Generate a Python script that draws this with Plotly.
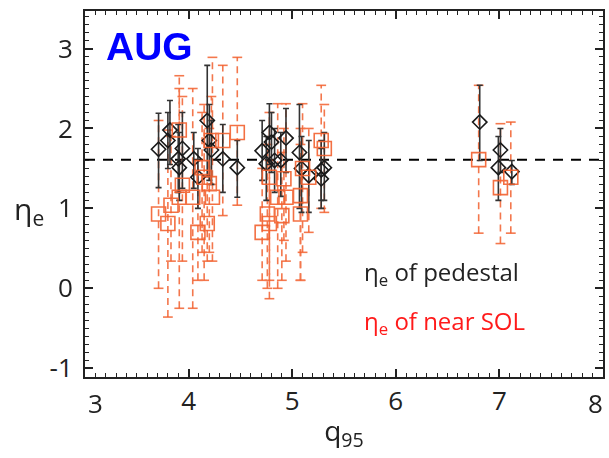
import plotly.graph_objects as go

# ---------------- data ----------------
# eta_e of pedestal (black diamonds)
ped_q95 = [3.71, 3.82, 3.80, 3.90, 3.91, 3.94, 4.05, 4.09, 4.18, 4.20, 4.22, 4.33, 4.47,
           4.78, 4.71, 4.80, 4.75, 4.83, 4.94, 4.89, 5.07, 5.16, 5.09, 5.28, 5.28, 5.31,
           6.81, 7.01, 6.99, 7.12]
ped_eta = [1.74, 1.98, 1.85, 1.62, 1.51, 1.75, 1.62, 1.39, 2.10, 1.85, 1.73, 1.62, 1.51,
           1.95, 1.72, 1.83, 1.56, 1.60, 1.88, 1.60, 1.70, 1.41, 1.50, 1.48, 1.37, 1.51,
           2.08, 1.73, 1.51, 1.46]
ped_hi = [2.19, 2.35, 2.20, 2.05, 1.95, 2.20, 1.95, 1.75, 2.79, 2.30, 2.10, 2.05, 1.85,
          2.31, 2.10, 2.20, 1.90, 2.00, 2.25, 1.95, 2.30, 1.85, 1.90, 1.85, 1.75, 1.95,
          2.54, 2.00, 1.90, 1.60]
ped_lo = [1.26, 1.55, 1.50, 1.20, 1.10, 1.25, 1.25, 1.00, 1.40, 1.35, 1.30, 1.20, 1.14,
          1.55, 1.35, 1.45, 1.10, 1.20, 1.45, 1.15, 1.00, 0.95, 0.95, 1.10, 1.00, 1.10,
          1.60, 1.45, 1.10, 1.30]

# eta_e of near SOL (orange squares)
sol_q95 = [3.71, 3.80, 3.83, 3.91, 3.91, 3.94, 4.04, 4.09, 4.13, 4.15, 4.18, 4.23, 4.20,
           4.22, 4.33, 4.47, 4.78, 4.76, 4.78, 4.71, 4.86, 4.94, 4.90, 4.92, 5.10, 5.08,
           5.08, 5.16, 5.28, 5.31, 6.80, 7.01, 7.11]
sol_eta = [0.93, 0.81, 1.04, 1.98, 1.14, 1.29, 1.14, 0.70, 1.51, 1.39, 0.81, 1.14, 1.31,
           1.85, 1.85, 1.95, 1.39, 0.93, 0.81, 0.70, 1.14, 1.14, 0.91, 1.37, 1.50, 1.16,
           0.93, 1.39, 1.85, 1.75, 1.61, 1.26, 1.39]
sol_hi = [2.10, 1.98, 1.90, 2.66, 2.50, 2.40, 2.50, 1.60, 2.20, 2.30, 1.40, 2.89, 2.00,
          2.40, 2.79, 2.89, 2.20, 1.80, 1.60, 1.50, 2.31, 2.31, 1.70, 2.00, 2.31, 2.00,
          1.80, 2.00, 2.54, 2.30, 2.54, 2.06, 2.08]
sol_lo = [0.00, -0.36, 0.34, 1.20, -0.25, 0.34, -0.25, 0.10, 0.45, 0.10, 0.34, 0.34, 0.45,
          1.30, 0.91, 1.04, 0.10, 0.00, -0.13, 0.10, 0.00, 0.34, 0.10, 0.60, 0.45, 0.10,
          0.10, 0.70, 1.00, 0.95, 0.69, 0.56, 0.69]

ref_eta = 1.61  # horizontal dashed reference level

x_ticks = [3, 4, 5, 6, 7, 8]
y_ticks = [-1, 0, 1, 2, 3]

ORANGE = "#F2602E"
BLACK = "#1a1a1a"
TICK_FONT = dict(family="Open Sans", size=26, color="#222")

fig = go.Figure()

# reference dashed line
fig.add_trace(go.Scatter(x=[x_ticks[0], x_ticks[-1]], y=[ref_eta, ref_eta], mode="lines",
                         line=dict(color="black", width=2, dash="10px,8px"),
                         hoverinfo="skip", showlegend=False))

# SOL dashed error bars (segments built from the data arrays)
ex, ey = [], []
for q, lo, hi in zip(sol_q95, sol_lo, sol_hi):
    ex += [q, q, None]
    ey += [lo, hi, None]
fig.add_trace(go.Scatter(x=ex, y=ey, mode="lines",
                         line=dict(color=ORANGE, width=1.6, dash="7px,5px"),
                         opacity=0.85, hoverinfo="skip", showlegend=False))
fig.add_trace(go.Scatter(x=sol_q95 + sol_q95, y=sol_lo + sol_hi, mode="markers",
                         marker=dict(symbol="line-ew", size=7,
                                     line=dict(color=ORANGE, width=1.6)),
                         opacity=0.85, hoverinfo="skip", showlegend=False))

# pedestal points with solid error bars
fig.add_trace(go.Scatter(
    x=ped_q95, y=ped_eta, mode="markers",
    marker=dict(symbol="diamond-open", size=11, color=BLACK, line=dict(width=1.6)),
    error_y=dict(type="data", symmetric=False,
                 array=[h - v for h, v in zip(ped_hi, ped_eta)],
                 arrayminus=[v - l for v, l in zip(ped_eta, ped_lo)],
                 color="#333333", thickness=1.6, width=3),
    showlegend=False))

# SOL squares
fig.add_trace(go.Scatter(
    x=sol_q95, y=sol_eta, mode="markers",
    marker=dict(symbol="square-open", size=14, color=ORANGE, line=dict(width=1.6)),
    opacity=0.9, showlegend=False))

axis_common = dict(showline=True, linecolor="#222", linewidth=2, mirror="allticks",
                   ticks="inside", ticklen=8, tickwidth=1.5, tickcolor="#222",
                   showgrid=False, zeroline=False, tickfont=TICK_FONT,
                   minor=dict(ticks="inside", ticklen=4, tickwidth=1, tickcolor="#222",
                              dtick=0.1, showgrid=False))

# end labels (3 and 8) are drawn as annotations nudged inward, like the reference
x_text = [str(t) if t not in (x_ticks[0], x_ticks[-1]) else "" for t in x_ticks]
fig.update_xaxes(range=[x_ticks[0], x_ticks[-1]], tickvals=x_ticks, ticktext=x_text,
                 title=dict(text="q<sub>95</sub>", font=dict(family="Open Sans", size=28, color="#222"),
                            standoff=4),
                 **axis_common)
fig.update_yaxes(range=[-1.11, 3.47], tickvals=y_ticks, ticktext=[str(t) for t in y_ticks],
                 ticklabelstandoff=5, **axis_common)

for t, shift in ((x_ticks[0], 10), (x_ticks[-1], -8)):
    fig.add_annotation(text=str(t), xref="x", yref="paper", x=t, y=0, xshift=shift,
                       yshift=-6, yanchor="top", showarrow=False, font=TICK_FONT)

# upright y-axis title
fig.add_annotation(text="η<sub>e</sub>", xref="paper", yref="paper", x=-0.14, y=0.456,
                   showarrow=False, font=dict(family="Open Sans", size=30, color="#222"))
# AUG label
fig.add_annotation(text="<b>AUG</b>", xref="paper", yref="paper", x=0.036, y=0.904,
                   xanchor="left", yanchor="middle", showarrow=False,
                   font=dict(family="Liberation Sans", size=39, color="#0000FF"))
# text legend
fig.add_annotation(text="η<sub>e</sub> of pedestal", xref="paper", yref="paper",
                   x=0.535, y=0.284, xanchor="left", yanchor="middle", showarrow=False,
                   font=dict(family="Open Sans", size=24, color="#222"))
fig.add_annotation(text="η<sub>e</sub> of near SOL", xref="paper", yref="paper",
                   x=0.535, y=0.150, xanchor="left", yanchor="middle", showarrow=False,
                   font=dict(family="Open Sans", size=24, color="#FF1A1A"))

fig.update_layout(width=609, height=458, margin=dict(l=85, r=4, t=11, b=81),
                  plot_bgcolor="white", paper_bgcolor="white")

fig.write_html("out.html")
